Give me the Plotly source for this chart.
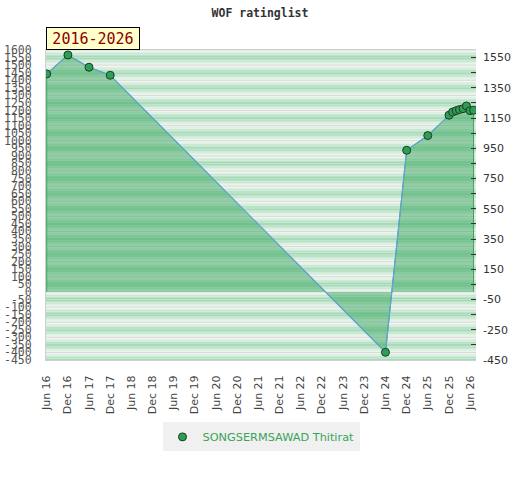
import plotly.graph_objects as go

# ---- data ----
dates = ["2016-06-01", "2016-12-01", "2017-06-01", "2017-12-01",
         "2024-06-01", "2024-12-01", "2025-06-01", "2025-12-01",
         "2026-01-01", "2026-02-01", "2026-03-01", "2026-04-01",
         "2026-05-01", "2026-06-01", "2026-07-01"]
ratings = [1442, 1567, 1486, 1433,
           -399, 937, 1034, 1169,
           1190, 1199, 1206, 1212,
           1230, 1199, 1202]
player = "SONGSERMSAWAD Thitirat"

xtick_vals = []
xtick_text = []
for yr in range(2016, 2027):
    xtick_vals.append(f"{yr}-06-01"); xtick_text.append(f"Jun {yr % 100:02d}")
    if yr < 2026:
        xtick_vals.append(f"{yr}-12-01"); xtick_text.append(f"Dec {yr % 100:02d}")

left_ticks = list(range(-450, 1601, 50))
right_ticks = list(range(-450, 1551, 100))
right_text = [str(v) if (v + 450) % 200 == 0 else "" for v in right_ticks]

YMIN, YMAX = -450, 1600

fig = go.Figure()

# fill polygon (area to zero with green outline)
fig.add_trace(go.Scatter(
    x=[dates[0]] + dates + [dates[-1]],
    y=[0] + ratings + [0],
    mode="lines", fill="toself",
    fillcolor="rgba(45,160,85,0.45)",
    line=dict(color="#3aa35a", width=1),
    hoverinfo="skip", showlegend=False))

# blue rating line
fig.add_trace(go.Scatter(
    x=dates, y=ratings, mode="lines",
    line=dict(color="#62a2da", width=1.2),
    hoverinfo="skip", showlegend=False))

# markers
fig.add_trace(go.Scatter(
    x=dates, y=ratings, mode="markers", name=player,
    marker=dict(size=8, color="#2f9e55", line=dict(color="#1b3d25", width=1))))

# invisible trace for right axis
fig.add_trace(go.Scatter(
    x=[dates[0]], y=[0], yaxis="y2", mode="markers",
    marker=dict(opacity=0), hoverinfo="skip", showlegend=False))

# background stripes
shapes = []
white = (244, 250, 246)
green = (160, 215, 178)
n = 10
for v in range(-500, 1600, 100):
    for i in range(n):
        y0 = v + i * 100 / n
        y1 = v + (i + 1) * 100 / n
        y0c, y1c = max(y0, YMIN), min(y1, YMAX)
        if y1c <= y0c:
            continue
        t = 1 - abs((i + 0.5) / n * 2 - 1)
        c = tuple(int(round(white[k] + t * (green[k] - white[k]))) for k in range(3))
        shapes.append(dict(type="rect", xref="paper", yref="y", x0=0, x1=1,
                           y0=y0c, y1=y1c, fillcolor=f"rgb{c}",
                           line=dict(width=0), layer="below"))
for v in range(-400, 1601, 100):
    shapes.append(dict(type="line", xref="paper", yref="y", x0=0, x1=1,
                       y0=v, y1=v, line=dict(color="#ddd6d6", width=1),
                       layer="below"))

fig.update_layout(
    width=520, height=480,
    margin=dict(l=46, r=44, t=50, b=120),
    paper_bgcolor="white", plot_bgcolor="white",
    shapes=shapes,
    title=dict(text="WOF ratinglist", x=0.5, xanchor="center",
               y=1 - 13 / 480, yanchor="middle",
               font=dict(family="DejaVu Sans Mono", size=11.5, color="#333333",
                         weight="bold")),
    xaxis=dict(type="date", range=["2016-05-26", "2026-07-22"], automargin=False,
               tickvals=xtick_vals, ticktext=xtick_text, tickangle=-90,
               ticks="", ticklabelstandoff=10, showgrid=False,
               showline=True, linecolor="#d0d0d0", mirror=True,
               tickfont=dict(family="DejaVu Sans", size=11, color="#444444")),
    yaxis=dict(range=[YMIN, YMAX], tickvals=left_ticks, automargin=False,
               ticktext=[str(v) for v in left_ticks],
               ticks="", ticklabelstandoff=11, showgrid=False, zeroline=False,
               showline=True, linecolor="#d0d0d0",
               tickfont=dict(family="DejaVu Sans Mono", size=11.5, color="#555555")),
    yaxis2=dict(range=[YMIN, YMAX], overlaying="y", side="right", automargin=False,
                tickvals=right_ticks, ticktext=right_text,
                ticks="inside", ticklen=5, tickcolor="#333333",
                ticklabelstandoff=6, showgrid=False, zeroline=False,
                tickfont=dict(family="DejaVu Sans", size=11, color="#333333")),
    legend=dict(orientation="h", x=0.5, xanchor="center",
                y=-0.248, yanchor="middle", bgcolor="#f0f0f0",
                font=dict(family="DejaVu Sans", size=11.3, color="#3aa35a")),
    annotations=[dict(text="2016-2026", xref="paper", yref="paper",
                      x=0, y=1, xanchor="left", yanchor="bottom",
                      width=90, height=19,
                      showarrow=False, bgcolor="#ffffcc",
                      bordercolor="#000000", borderwidth=1, borderpad=1,
                      font=dict(family="DejaVu Sans Mono", size=15,
                                color="#8b0000"))],
)

fig.write_html("out.html", config={"displayModeBar": False},
               post_script="document.body.style.margin='0';document.body.style.overflow='hidden';")
